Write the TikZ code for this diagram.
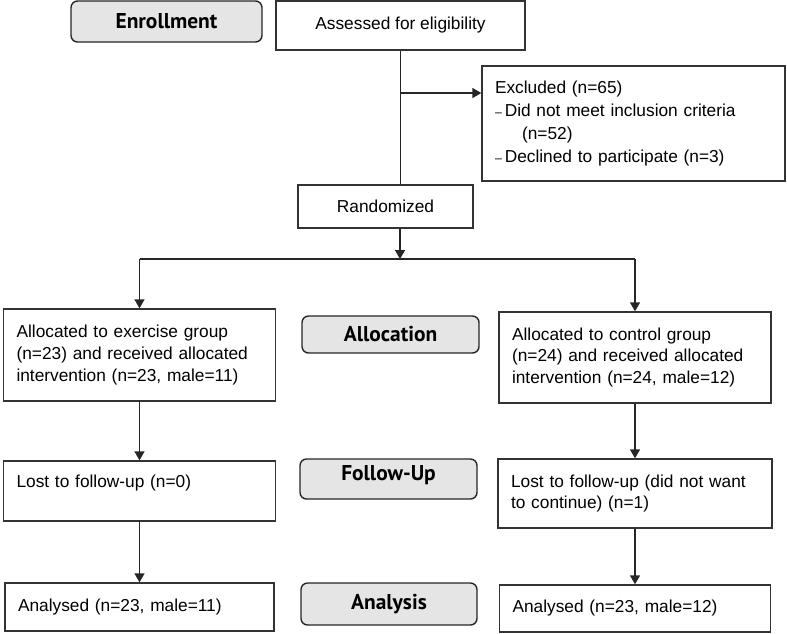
\documentclass[tikz,border=0pt]{standalone}
\usepackage{fontspec}
\setmainfont{Liberation Sans}
\newfontfamily\headfont{PT Sans}
\usetikzlibrary{arrows.meta}

\begin{document}
\begin{tikzpicture}[
        x=0.02cm, y=-0.02cm,
        line width=0.8pt,
        font=\fontsize{9.85}{12.4}\selectfont,
        box/.style={rectangle, draw=black!80, fill=white, inner xsep=0.26cm, inner ysep=0pt, align=left},
        center_box/.style={rectangle, draw=black!80, fill=white, inner sep=0pt, text centered},
        phase/.style={rectangle, draw=black!85, fill=black!10, rounded corners=0.13cm, inner sep=0pt, text centered, font=\headfont\bfseries\fontsize{12.2}{14}\selectfont},
        arrow/.style={-{Triangle[length=0.18cm, width=0.2cm]}, draw=black!85},
        line/.style={draw=black!85}
    ]
        \useasboundingbox (0,0) rectangle (787,633);

        % Enrollment
        \node[phase, minimum width=3.82cm, minimum height=0.82cm] (enroll_label) at (166.5,21.5) {Enrollment};
        \node[center_box, minimum width=4.98cm, minimum height=0.98cm] (assess_box) at (400.5,25.5) {Assessed for eligibility};

        % Excluded
        \node[box, text width=5.54cm, minimum height=2.3cm, font=\fontsize{9.85}{13.1}\selectfont] (excl_box) at (633.5,123.5) {
            Excluded (n=65)\\
            {\scriptsize--}\,Did not meet inclusion criteria\\
            \hspace*{0.54cm}(n=52)\\
            {\scriptsize--}\,Declined to participate (n=3)
        };

        % Randomized
        \node[center_box, minimum width=3.5cm, minimum height=0.86cm] (rand_box) at (385.5,206.5) {Randomized};

        % Allocation
        \node[phase, minimum width=3.54cm, minimum height=0.74cm] (alloc_label) at (390.5,334.5) {Allocation};
        \node[box, text width=4.92cm, minimum height=1.84cm] (alloc_exercise) at (139.5,355) {
            Allocated to exercise group\\
            (n=23) and received allocated\\
            intervention (n=23, male=11)
        };
        \node[box, text width=4.92cm, minimum height=1.82cm] (alloc_control) at (635,357.5) {
            Allocated to control group\\
            (n=24) and received allocated\\
            intervention (n=24, male=12)
        };

        % Follow-Up
        \node[phase, minimum width=3.54cm, minimum height=0.8cm, text depth=0.26cm] (follow_label) at (388.5,479) {Follow-Up};
        \node[box, text width=4.92cm, minimum height=1.2cm, text depth=0.4cm] (lost_exercise) at (139.5,491) {Lost to follow-up (n=0)};
        \node[box, text width=4.96cm, minimum height=1.38cm] (lost_control) at (635,493.5) {
            Lost to follow-up (did not want\\
            to continue) (n=1)
        };

        % Analysis
        \node[phase, minimum width=3.52cm, minimum height=0.84cm] (analysis_label) at (389,604) {Analysis};
        \node[box, text width=4.86cm, minimum height=0.96cm] (analysed_exercise) at (139.5,607) {Analysed (n=23, male=11)};
        \node[box, text width=4.9cm, minimum height=0.94cm] (analysed_control) at (635,608.5) {Analysed (n=23, male=12)};

        % Connectors
        \coordinate (excl_split) at (400,93);
        \coordinate (alloc_split) at (400,259);
        \draw[line] (assess_box) -- (assess_box |- rand_box.north);
        \draw[arrow] (excl_split) -- (excl_split -| excl_box.west);
        \draw[arrow] (rand_box.south -| alloc_split) -- (alloc_split);
        \draw[line] (alloc_split -| alloc_exercise) -- (alloc_split -| alloc_control);
        \draw[arrow] (alloc_split -| alloc_exercise) -- (alloc_exercise);
        \draw[arrow] (alloc_split -| alloc_control) -- (alloc_control);
        \draw[arrow] (alloc_exercise) -- (lost_exercise);
        \draw[arrow] (alloc_control) -- (lost_control);
        \draw[arrow] (lost_exercise) -- (analysed_exercise);
        \draw[arrow] (lost_control) -- (analysed_control);

    \end{tikzpicture}
\end{document}
